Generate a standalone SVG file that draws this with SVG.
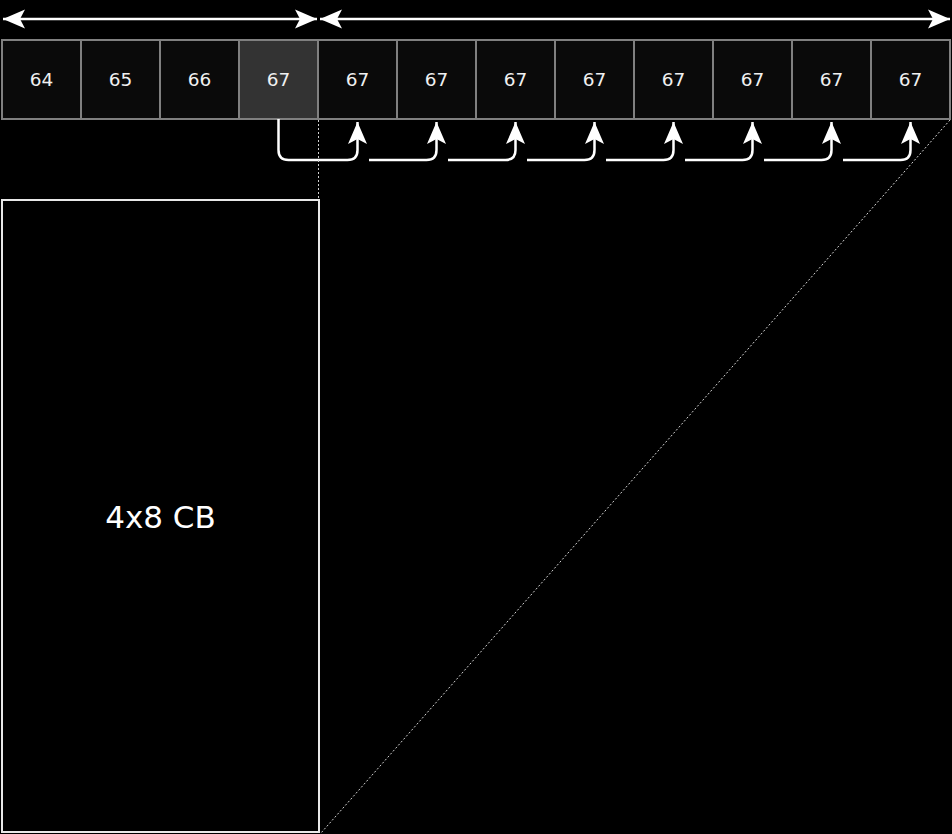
<svg xmlns="http://www.w3.org/2000/svg" width="952" height="834" viewBox="0 0 952 834">
<style>
.cell rect{fill:#0a0a0a;stroke:#808080;stroke-width:2}
.cell.hl rect{fill:#333333}
.cell text{font-family:"DejaVu Sans",sans-serif;font-size:18.5px;fill:#f0f0f0;text-anchor:middle}
.arr{fill:none;stroke:#ffffff;stroke-width:2.5}
.dot{fill:none;stroke:#d0d0d0;stroke-width:1;stroke-dasharray:2,2}
</style>
<defs>
<marker id="ah" viewBox="-24 -11 26 22" markerWidth="26" markerHeight="22" refX="0" refY="0" orient="auto-start-reverse" markerUnits="userSpaceOnUse">
<path d="M0,0 L-22,-9.5 L-17,0 L-22,9.5 Z" fill="#ffffff"/>
</marker>
</defs>
<rect width="952" height="834" fill="#000"/>
<g id="cells">
<g id="c0" class="cell"><rect x="2" y="40" width="79" height="79"/><text x="41.5" y="86">64</text></g>
<g id="c1" class="cell"><rect x="81" y="40" width="79" height="79"/><text x="120.5" y="86">65</text></g>
<g id="c2" class="cell"><rect x="160" y="40" width="79" height="79"/><text x="199.5" y="86">66</text></g>
<g id="c3" class="cell hl"><rect x="239" y="40" width="79" height="79"/><text x="278.5" y="86">67</text></g>
<g id="c4" class="cell"><rect x="318" y="40" width="79" height="79"/><text x="357.5" y="86">67</text></g>
<g id="c5" class="cell"><rect x="397" y="40" width="79" height="79"/><text x="436.5" y="86">67</text></g>
<g id="c6" class="cell"><rect x="476" y="40" width="79" height="79"/><text x="515.5" y="86">67</text></g>
<g id="c7" class="cell"><rect x="555" y="40" width="79" height="79"/><text x="594.5" y="86">67</text></g>
<g id="c8" class="cell"><rect x="634" y="40" width="79" height="79"/><text x="673.5" y="86">67</text></g>
<g id="c9" class="cell"><rect x="713" y="40" width="79" height="79"/><text x="752.5" y="86">67</text></g>
<g id="c10" class="cell"><rect x="792" y="40" width="79" height="79"/><text x="831.5" y="86">67</text></g>
<g id="c11" class="cell"><rect x="871" y="40" width="79" height="79"/><text x="910.5" y="86">67</text></g>
</g>
<g id="cb">
<rect x="2" y="200" width="317" height="632" fill="#000" stroke="#e8e8e8" stroke-width="2"/>
<text x="160.5" y="528" font-family="DejaVu Sans, sans-serif" font-size="31" fill="#ffffff" text-anchor="middle">4x8 CB</text>
</g>
<g id="connectors">
<line class="arr" x1="3" y1="19" x2="317" y2="19" marker-start="url(#ah)" marker-end="url(#ah)"/>
<line class="arr" x1="320" y1="19" x2="950" y2="19" marker-start="url(#ah)" marker-end="url(#ah)"/>
<path class="arr" d="M278.5,119 V150 Q278.5,160 288.5,160 H347.5 Q357.5,160 357.5,150 V122" marker-end="url(#ah)"/>
<path class="arr" d="M369,160 H426.5 Q436.5,160 436.5,150 V122" marker-end="url(#ah)"/>
<path class="arr" d="M448,160 H505.5 Q515.5,160 515.5,150 V122" marker-end="url(#ah)"/>
<path class="arr" d="M527,160 H584.5 Q594.5,160 594.5,150 V122" marker-end="url(#ah)"/>
<path class="arr" d="M606,160 H663.5 Q673.5,160 673.5,150 V122" marker-end="url(#ah)"/>
<path class="arr" d="M685,160 H742.5 Q752.5,160 752.5,150 V122" marker-end="url(#ah)"/>
<path class="arr" d="M764,160 H821.5 Q831.5,160 831.5,150 V122" marker-end="url(#ah)"/>
<path class="arr" d="M843,160 H900.5 Q910.5,160 910.5,150 V122" marker-end="url(#ah)"/>
<line class="dot" x1="318.5" y1="120" x2="318.5" y2="199"/>
<line class="dot" x1="950" y1="120" x2="321" y2="833"/>
</g>
</svg>
